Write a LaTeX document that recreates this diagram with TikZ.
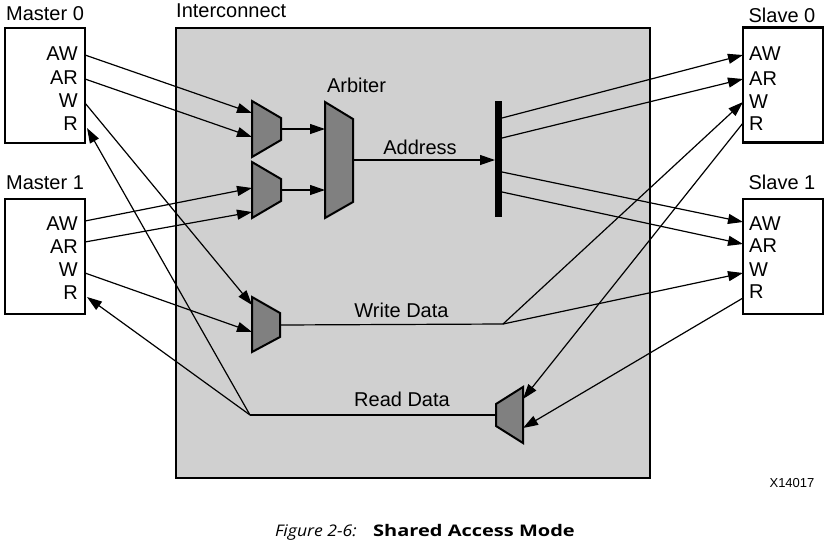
\documentclass[tikz,border=0pt]{standalone}
\usepackage{fontspec}
\setmainfont{Liberation Sans}
\newfontfamily\capfont{Open Sans}
\usetikzlibrary{arrows.meta}
\definecolor{icgray}{RGB}{208,208,208}
\definecolor{muxgray}{RGB}{128,128,128}
\begin{document}
\begin{tikzpicture}[x=1pt,y=-1pt,
  portbox/.style={draw, line width=2.5pt, fill=white, minimum width=80pt, minimum height=115pt, inner sep=0pt},
  lbl/.style={font=\fontsize{20}{23}\selectfont, inner sep=0pt},
  conn/.style={line width=1.2pt},
  arr/.style={conn, -{Triangle[length=15pt,width=10pt]}},
  mux/.style={draw, line width=2pt, fill=muxgray, line join=miter},
  icbox/.style={draw, line width=2.5pt, fill=icgray}]
\useasboundingbox (0,0) rectangle (828,542);

% Interconnect
\draw[icbox] (176,28) rectangle (650,478);
\node[lbl, anchor=west] (iclbl) at (176,11) {Interconnect};

% Masters
\node[portbox] (m0) at (45,85.5) {};
\node[lbl] (m0lbl) at (45,14) {Master 0};
\node[lbl, anchor=east] (m0aw) at (78,53.5) {AW};
\node[lbl, anchor=east] (m0ar) at (78,77.5) {AR};
\node[lbl, anchor=east] (m0w) at (78,100.5) {W};
\node[lbl, anchor=east] (m0r) at (78,123.5) {R};
\coordinate (m0awo) at (85,55);
\coordinate (m0aro) at (85,79);
\coordinate (m0wo) at (85,103);
\coordinate (m0ri) at (87,128);

\node[portbox] (m1) at (45,256.5) {};
\node[lbl] (m1lbl) at (45,183) {Master 1};
\node[lbl, anchor=east] (m1aw) at (78,224) {AW};
\node[lbl, anchor=east] (m1ar) at (78,247) {AR};
\node[lbl, anchor=east] (m1w) at (78,270) {W};
\node[lbl, anchor=east] (m1r) at (78,293) {R};
\coordinate (m1awo) at (85,221);
\coordinate (m1aro) at (85,242);
\coordinate (m1wo) at (85,273);
\coordinate (m1ri) at (87,297);

% Slaves
\node[portbox] (s0) at (783,85) {};
\node[lbl] (s0lbl) at (782,15) {Slave 0};
\node[lbl, anchor=west] (s0aw) at (749,54) {AW};
\node[lbl, anchor=west] (s0ar) at (749,79) {AR};
\node[lbl, anchor=west] (s0w) at (749,101.5) {W};
\node[lbl, anchor=west] (s0r) at (749,124) {R};
\coordinate (s0awi) at (743,55);
\coordinate (s0ari) at (743,79);
\coordinate (s0wi) at (743,102);
\coordinate (s0ro) at (743,123);

\node[portbox] (s1) at (783,256.5) {};
\node[lbl] (s1lbl) at (782,182) {Slave 1};
\node[lbl, anchor=west] (s1aw) at (749,223.5) {AW};
\node[lbl, anchor=west] (s1ar) at (749,246) {AR};
\node[lbl, anchor=west] (s1w) at (749,269.5) {W};
\node[lbl, anchor=west] (s1r) at (749,292) {R};
\coordinate (s1awi) at (743,222);
\coordinate (s1ari) at (743,244);
\coordinate (s1wi) at (743,273);
\coordinate (s1ro) at (743,298);

% Muxes
\draw[mux] (252,101) -- (281,118) -- (281,140) -- (252,157) -- cycle;
\coordinate (mux1a) at (252,113);
\coordinate (mux1b) at (252,137);
\coordinate (mux1o) at (281,129);
\draw[mux] (252,162) -- (281,179) -- (281,201) -- (252,218) -- cycle;
\coordinate (mux2a) at (252,188);
\coordinate (mux2b) at (252,212);
\coordinate (mux2o) at (281,190);

% Arbiter
\draw[mux] (325,102) -- (353,119) -- (353,202) -- (325,218) -- cycle;
\node[lbl] (arblbl) at (356.5,85) {Arbiter};
\coordinate (arba) at (325,129);
\coordinate (arbb) at (325,190);
\coordinate (arbo) at (353,160);

% Address bar
\fill (495,101) rectangle (502,217);
\coordinate (bari) at (495,160);
\coordinate (bar1) at (502,118);
\coordinate (bar2) at (502,138);
\coordinate (bar3) at (502,172);
\coordinate (bar4) at (502,192);
\node[lbl] (addrlbl) at (420,147) {Address};

% Write mux
\draw[mux] (252,297) -- (280,313) -- (280,337) -- (252,352) -- cycle;
\coordinate (wmuxa) at (252,305);
\coordinate (wmuxb) at (252,332);
\coordinate (wmuxo) at (280,325);
\coordinate (wsplit) at (503,324);
\node[lbl] (wlbl) at (401.5,310) {Write Data};

% Read mux
\draw[mux] (496,404) -- (523,387) -- (523,443) -- (496,426) -- cycle;
\coordinate (rmuxa) at (523,399);
\coordinate (rmuxb) at (523,428);
\coordinate (rmuxo) at (496,415);
\coordinate (rsplit) at (250,415);
\node[lbl] (rlbl) at (402,399) {Read Data};

% Connectors
\draw[arr] (m0awo) -- (mux1a);
\draw[arr] (m0aro) -- (mux1b);
\draw[arr] (m1awo) -- (mux2a);
\draw[arr] (m1aro) -- (mux2b);
\draw[arr] (mux1o) -- (arba);
\draw[arr] (mux2o) -- (arbb);
\draw[arr] (arbo) -- (bari);
\draw[arr] (bar1) -- (s0awi);
\draw[arr] (bar2) -- (s0ari);
\draw[arr] (bar3) -- (s1awi);
\draw[arr] (bar4) -- (s1ari);
\draw[arr] (m0wo) -- (wmuxa);
\draw[arr] (m1wo) -- (wmuxb);
\draw[conn] (wmuxo) -- (wsplit);
\draw[arr] (wsplit) -- (s0wi);
\draw[arr] (wsplit) -- (s1wi);
\draw[arr] (s0ro) -- (rmuxa);
\draw[arr] (s1ro) -- (rmuxb);
\draw[conn] (rmuxo) -- (rsplit);
\draw[arr] (rsplit) -- (m0ri);
\draw[arr] (rsplit) -- (m1ri);

% Figure id and caption
\node[inner sep=0pt, font=\fontsize{13}{15}\selectfont] (fid) at (792,483) {X14017};
\node[inner sep=0pt, anchor=base east, font=\capfont\itshape\fontsize{16}{18}\selectfont] (capa) at (357,536) {\scalebox{1.1}[1]{Figure 2-6:}};
\node[inner sep=0pt, anchor=base west, font=\capfont\bfseries\fontsize{16}{18}\selectfont] (capb) at (373,536) {\scalebox{1.25}[1]{Shared Access Mode}};
\end{tikzpicture}
\end{document}
